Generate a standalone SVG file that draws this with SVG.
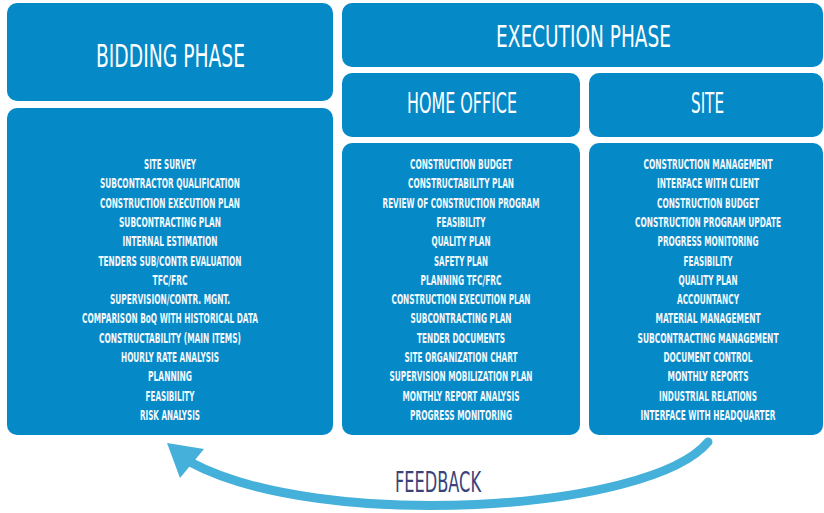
<svg xmlns="http://www.w3.org/2000/svg" width="824" height="513" viewBox="0 0 824 513">
<style>
.box{fill:#0689c7}
.t{font-family:"Liberation Sans Narrow","DejaVu Sans Condensed","Liberation Sans",sans-serif;fill:#ffffff;text-anchor:middle}
.hd{font-weight:normal}
.li{font-size:14px;font-weight:bold;fill:#f2f8fc}
.fb{font-family:"Liberation Sans Narrow","DejaVu Sans Condensed","Liberation Sans",sans-serif;fill:#3a4379;text-anchor:middle;font-size:28px}
</style>
<rect width="824" height="513" fill="#ffffff"/>

<g id="bidding-phase">
<rect class="box" x="7" y="3" width="326" height="98" rx="10"/>
<text class="t hd" x="170.5" y="67" font-size="32" textLength="149" lengthAdjust="spacingAndGlyphs">BIDDING PHASE</text>
</g>

<g id="execution-phase">
<rect class="box" x="342" y="3" width="481" height="64" rx="10"/>
<text class="t hd" x="583.5" y="47" font-size="31" textLength="175" lengthAdjust="spacingAndGlyphs">EXECUTION PHASE</text>
</g>

<g id="home-office">
<rect class="box" x="342" y="73" width="238" height="64" rx="10"/>
<text class="t hd" x="462" y="113" font-size="28" textLength="110" lengthAdjust="spacingAndGlyphs">HOME OFFICE</text>
</g>

<g id="site">
<rect class="box" x="589" y="73" width="234" height="64" rx="10"/>
<text class="t hd" x="707.5" y="113" font-size="28" textLength="33" lengthAdjust="spacingAndGlyphs">SITE</text>
</g>

<g id="bidding-list">
<rect class="box" x="7" y="108" width="326" height="327" rx="10"/>
<g transform="translate(170,0) scale(0.75,1)">
<text class="t li" x="0" y="169" textLength="69.3" lengthAdjust="spacingAndGlyphs">SITE SURVEY</text>
<text class="t li" x="0" y="188.3" textLength="186.7" lengthAdjust="spacingAndGlyphs">SUBCONTRACTOR QUALIFICATION</text>
<text class="t li" x="0" y="207.6" textLength="186.7" lengthAdjust="spacingAndGlyphs">CONSTRUCTION EXECUTION PLAN</text>
<text class="t li" x="0" y="226.9" textLength="136" lengthAdjust="spacingAndGlyphs">SUBCONTRACTING PLAN</text>
<text class="t li" x="0" y="246.2" textLength="126.7" lengthAdjust="spacingAndGlyphs">INTERNAL ESTIMATION</text>
<text class="t li" x="0" y="265.6" textLength="190.7" lengthAdjust="spacingAndGlyphs">TENDERS SUB/CONTR EVALUATION</text>
<text class="t li" x="0" y="284.9" textLength="46.7" lengthAdjust="spacingAndGlyphs">TFC/FRC</text>
<text class="t li" x="0" y="304.2" textLength="160" lengthAdjust="spacingAndGlyphs">SUPERVISION/CONTR. MGNT.</text>
<text class="t li" x="0" y="323.5" textLength="234.7" lengthAdjust="spacingAndGlyphs">COMPARISON BoQ WITH HISTORICAL DATA</text>
<text class="t li" x="0" y="342.8" textLength="189.3" lengthAdjust="spacingAndGlyphs">CONSTRUCTABILITY (MAIN ITEMS)</text>
<text class="t li" x="0" y="362.1" textLength="130.7" lengthAdjust="spacingAndGlyphs">HOURLY RATE ANALYSIS</text>
<text class="t li" x="0" y="381.4" textLength="58.7" lengthAdjust="spacingAndGlyphs">PLANNING</text>
<text class="t li" x="0" y="400.7" textLength="65.3" lengthAdjust="spacingAndGlyphs">FEASIBILITY</text>
<text class="t li" x="0" y="420" textLength="80" lengthAdjust="spacingAndGlyphs">RISK ANALYSIS</text>
</g>
</g>

<g id="home-office-list">
<rect class="box" x="342" y="143" width="238" height="292" rx="10"/>
<g transform="translate(461,0) scale(0.75,1)">
<text class="t li" x="0" y="169" textLength="136" lengthAdjust="spacingAndGlyphs">CONSTRUCTION BUDGET</text>
<text class="t li" x="0" y="188.3" textLength="141.3" lengthAdjust="spacingAndGlyphs">CONSTRUCTABILITY PLAN</text>
<text class="t li" x="0" y="207.6" textLength="209.3" lengthAdjust="spacingAndGlyphs">REVIEW OF CONSTRUCTION PROGRAM</text>
<text class="t li" x="0" y="226.9" textLength="65.3" lengthAdjust="spacingAndGlyphs">FEASIBILITY</text>
<text class="t li" x="0" y="246.2" textLength="78.7" lengthAdjust="spacingAndGlyphs">QUALITY PLAN</text>
<text class="t li" x="0" y="265.6" textLength="72" lengthAdjust="spacingAndGlyphs">SAFETY PLAN</text>
<text class="t li" x="0" y="284.9" textLength="108" lengthAdjust="spacingAndGlyphs">PLANNING TFC/FRC</text>
<text class="t li" x="0" y="304.2" textLength="185.3" lengthAdjust="spacingAndGlyphs">CONSTRUCTION EXECUTION PLAN</text>
<text class="t li" x="0" y="323.5" textLength="134.7" lengthAdjust="spacingAndGlyphs">SUBCONTRACTING PLAN</text>
<text class="t li" x="0" y="342.8" textLength="117.3" lengthAdjust="spacingAndGlyphs">TENDER DOCUMENTS</text>
<text class="t li" x="0" y="362.1" textLength="150.7" lengthAdjust="spacingAndGlyphs">SITE ORGANIZATION CHART</text>
<text class="t li" x="0" y="381.4" textLength="190.7" lengthAdjust="spacingAndGlyphs">SUPERVISION MOBILIZATION PLAN</text>
<text class="t li" x="0" y="400.7" textLength="156" lengthAdjust="spacingAndGlyphs">MONTHLY REPORT ANALYSIS</text>
<text class="t li" x="0" y="420" textLength="136" lengthAdjust="spacingAndGlyphs">PROGRESS MONITORING</text>
</g>
</g>

<g id="site-list">
<rect class="box" x="589" y="143" width="234" height="292" rx="10"/>
<g transform="translate(708,0) scale(0.75,1)">
<text class="t li" x="0" y="169" textLength="172" lengthAdjust="spacingAndGlyphs">CONSTRUCTION MANAGEMENT</text>
<text class="t li" x="0" y="188.3" textLength="136" lengthAdjust="spacingAndGlyphs">INTERFACE WITH CLIENT</text>
<text class="t li" x="0" y="207.6" textLength="136" lengthAdjust="spacingAndGlyphs">CONSTRUCTION BUDGET</text>
<text class="t li" x="0" y="226.9" textLength="194.7" lengthAdjust="spacingAndGlyphs">CONSTRUCTION PROGRAM UPDATE</text>
<text class="t li" x="0" y="246.2" textLength="134.7" lengthAdjust="spacingAndGlyphs">PROGRESS MONITORING</text>
<text class="t li" x="0" y="265.6" textLength="65.3" lengthAdjust="spacingAndGlyphs">FEASIBILITY</text>
<text class="t li" x="0" y="284.9" textLength="78.7" lengthAdjust="spacingAndGlyphs">QUALITY PLAN</text>
<text class="t li" x="0" y="304.2" textLength="82.7" lengthAdjust="spacingAndGlyphs">ACCOUNTANCY</text>
<text class="t li" x="0" y="323.5" textLength="140" lengthAdjust="spacingAndGlyphs">MATERIAL MANAGEMENT</text>
<text class="t li" x="0" y="342.8" textLength="188" lengthAdjust="spacingAndGlyphs">SUBCONTRACTING MANAGEMENT</text>
<text class="t li" x="0" y="362.1" textLength="118.7" lengthAdjust="spacingAndGlyphs">DOCUMENT CONTROL</text>
<text class="t li" x="0" y="381.4" textLength="108" lengthAdjust="spacingAndGlyphs">MONTHLY REPORTS</text>
<text class="t li" x="0" y="400.7" textLength="130.7" lengthAdjust="spacingAndGlyphs">INDUSTRIAL RELATIONS</text>
<text class="t li" x="0" y="420" textLength="180" lengthAdjust="spacingAndGlyphs">INTERFACE WITH HEADQUARTER</text>
</g>
</g>

<g id="connectors">
<path d="M708,442 C650,512 320,532 190,462" fill="none" stroke="#45b1da" stroke-width="9" stroke-linecap="round"/>
<polygon points="167,443 204,449 180,478" fill="#45b1da"/>
<text class="fb" x="438" y="492" textLength="86" lengthAdjust="spacingAndGlyphs">FEEDBACK</text>
</g>
</svg>
